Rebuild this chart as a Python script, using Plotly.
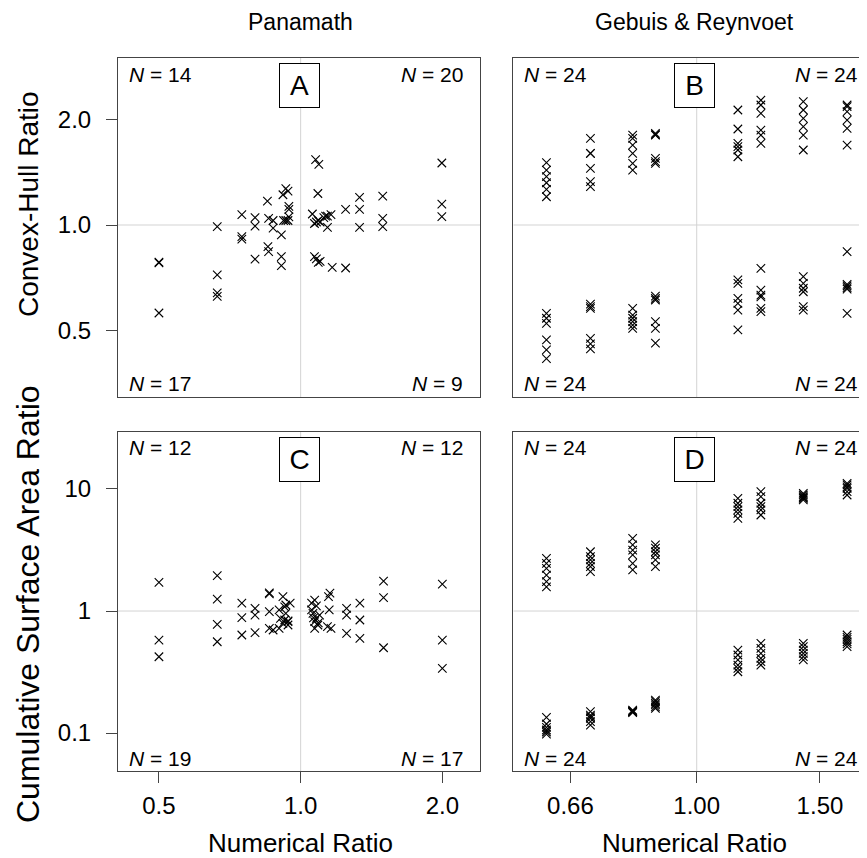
import math
import plotly.graph_objects as go

# ---------------- data ----------------
# Panel A: Panamath, convex-hull ratio vs numerical ratio
a_x = [0.75, 0.80, 0.85, 0.855, 0.874, 0.917, 0.94, 0.92, 0.93, 0.94, 0.944, 0.944, 0.944, 0.93,
       0.5, 0.5, 0.5, 0.665, 0.665, 0.665, 0.665, 0.75, 0.75, 0.80, 0.80, 0.852, 0.855, 0.874, 0.91, 0.91, 0.91,
       1.059, 1.076, 1.093, 1.088, 1.08, 1.09, 1.10, 1.12, 1.14, 1.16, 1.246, 1.334, 1.334, 1.494, 1.494,
       1.995, 1.995, 1.995, 1.13, 1.07,
       1.14, 1.07, 1.08, 1.09, 1.10, 1.167, 1.246, 1.334, 1.494]
a_y = [1.07, 1.05, 1.17, 1.045, 1.03, 1.22, 1.25, 1.03, 1.03, 1.03, 1.13, 1.108, 1.055, 1.27,
       0.784, 0.78, 0.561, 0.989, 0.721, 0.64, 0.626, 0.926, 0.911, 0.993, 0.799, 0.868, 0.84, 0.98, 0.813, 0.766, 0.937,
       1.075, 1.536, 1.49, 1.23, 1.02, 1.03, 1.02, 1.05, 1.06, 1.07, 1.108, 1.199, 1.108, 1.209, 1.045,
       1.503, 1.147, 1.056, 1.06, 1.01,
       0.985, 0.813, 0.80, 0.782, 0.787, 0.757, 0.754, 0.985, 0.989]

# Panel C: Panamath, cumulative surface area ratio vs numerical ratio
c_x = [0.5, 0.665, 0.665, 0.75, 0.80, 0.858, 0.858, 0.917, 0.925, 0.90, 0.95, 0.93,
       0.5, 0.5, 0.665, 0.665, 0.75, 0.75, 0.80, 0.80, 0.858, 0.858, 0.93, 0.906, 0.925, 0.94, 0.917, 0.90, 0.874, 0.94, 0.94,
       1.055, 1.071, 1.055, 1.154, 1.146, 1.15, 1.252, 1.336, 1.5, 1.5, 2.0, 1.08,
       1.062, 1.08, 1.071, 1.088, 1.071, 1.097, 1.16, 1.14, 1.252, 1.252, 1.336, 1.336, 1.5, 2.0, 2.0, 1.065, 1.09]
c_y = [1.72, 1.95, 1.25, 1.16, 1.05, 1.41, 1.38, 1.31, 1.08, 1.02, 1.16, 1.12,
       0.578, 0.422, 0.778, 0.56, 0.881, 0.636, 0.927, 0.664, 0.987, 0.721, 0.957, 0.871, 0.844, 0.817, 0.792, 0.721, 0.699, 0.768, 0.83,
       1.16, 1.23, 1.02, 1.40, 1.31, 1.02, 1.05, 1.16, 1.76, 1.29, 1.66, 1.10,
       0.957, 0.871, 0.817, 0.768, 0.721, 0.927, 0.721, 0.744, 0.927, 0.656, 0.844, 0.598, 0.50, 0.578, 0.339, 0.88, 0.80]

# Gebuis & Reynvoet: eight numerical ratios, six stimuli per column and half
gr_ratios = [0.61, 0.705, 0.81, 0.873, 1.145, 1.235, 1.42, 1.64]

# Panel B: convex-hull ratio (upper and lower groups per ratio)
b_upper = [
    [1.506, 1.435, 1.374, 1.32, 1.264, 1.204],
    [1.768, 1.602, 1.602, 1.451, 1.329, 1.286],
    [1.806, 1.768, 1.691, 1.602, 1.50, 1.435],
    [1.827, 1.806, 1.81, 1.55, 1.516, 1.50],
    [2.129, 1.879, 1.71, 1.673, 1.637, 1.566],
    [2.27, 2.20, 2.083, 1.866, 1.806, 1.71],
    [2.249, 2.129, 2.016, 1.908, 1.806, 1.637],
    [2.20, 2.175, 2.105, 1.993, 1.887, 1.691],
]
b_lower = [
    [0.56, 0.542, 0.524, 0.47, 0.44, 0.416],
    [0.595, 0.585, 0.578, 0.475, 0.458, 0.443],
    [0.578, 0.553, 0.542, 0.53, 0.518, 0.507],
    [0.627, 0.618, 0.611, 0.53, 0.507, 0.46],
    [0.697, 0.682, 0.618, 0.598, 0.572, 0.502],
    [0.752, 0.652, 0.631, 0.624, 0.578, 0.566],
    [0.712, 0.682, 0.66, 0.645, 0.585, 0.572],
    [0.839, 0.677, 0.67, 0.663, 0.656, 0.56],
]

# Panel D: cumulative surface area ratio
d_upper = [
    [2.70, 2.46, 2.24, 1.97, 1.74, 1.58],
    [3.06, 2.79, 2.62, 2.46, 2.31, 2.10],
    [3.94, 3.48, 3.16, 2.88, 2.46, 2.17],
    [3.48, 3.27, 3.06, 2.88, 2.62, 2.31],
    [8.39, 7.64, 7.16, 6.73, 6.31, 5.75],
    [9.50, 8.65, 7.64, 7.16, 6.73, 6.12],
    [9.22, 8.93, 8.65, 8.50, 8.39, 8.13],
    [11.1, 10.8, 10.4, 10.1, 9.50, 8.93],
]
d_lower = [
    [0.1345, 0.1186, 0.1114, 0.1059, 0.102, 0.098],
    [0.1496, 0.1405, 0.136, 0.132, 0.124, 0.116],
    [0.147, 0.149, 0.150, 0.150, 0.152, 0.154],
    [0.186, 0.181, 0.175, 0.170, 0.164, 0.159],
    [0.479, 0.436, 0.397, 0.361, 0.339, 0.318],
    [0.544, 0.495, 0.45, 0.41, 0.385, 0.361],
    [0.544, 0.51, 0.479, 0.45, 0.423, 0.397],
    [0.636, 0.608, 0.586, 0.56, 0.537, 0.51],
]

# quadrant counts (TL, TR, BL, BR)
n_a = [14, 20, 17, 9]
n_b = [24, 24, 24, 24]
n_c = [12, 12, 19, 17]
n_d = [24, 24, 24, 24]

col_titles = ["Panamath", "Gebuis & Reynvoet"]
row_titles = ["Convex-Hull Ratio", "Cumulative Surface Area Ratio"]
x_title = "Numerical Ratio"
letters = ["A", "B", "C", "D"]

left_xticks = [0.5, 1.0, 2.0]
left_xtext = ["0.5", "1.0", "2.0"]
right_xticks = [0.66, 1.0, 1.5]
right_xtext = ["0.66", "1.00", "1.50"]
top_yticks = [0.5, 1.0, 2.0]
top_ytext = ["0.5", "1.0", "2.0"]
bot_yticks = [0.1, 1, 10]
bot_ytext = ["0.1", "1", "10"]

# ---------------- layout geometry ----------------
W, H = 867, 858
ML, MT, MB = 110, 50, 95
PW = W - ML
PH = H - MT - MB
x_left_dom = [0, 362 / PW]
x_right_dom = [(505.3 - ML) / PW, 1]
y_top_dom = [(763 - 389) / PH, 1]
y_bot_dom = [0, 339 / PH]

x_left_rng = [-0.388, 0.381]
x_right_rng = [math.log10(0.547), 0.2547]
y_top_rng = [-0.4907, 0.4765]
y_bot_rng = [-1.311, 1.467]

FONT = "Liberation Sans, Arial, Helvetica, sans-serif"
AX = "#444444"
GRID = "#d3d3d3"


def expand(cols, ratios):
    xs, ys = [], []
    for r, vals in zip(ratios, cols):
        xs += [r] * len(vals)
        ys += vals
    return xs, ys


bx_u, by_u = expand(b_upper, gr_ratios)
bx_l, by_l = expand(b_lower, gr_ratios)
dx_u, dy_u = expand(d_upper, gr_ratios)
dx_l, dy_l = expand(d_lower, gr_ratios)

panels = [
    ("x", "y", a_x, a_y, x_left_rng, y_top_rng),
    ("x2", "y2", bx_u + bx_l, by_u + by_l, x_right_rng, y_top_rng),
    ("x3", "y3", c_x, c_y, x_left_rng, y_bot_rng),
    ("x4", "y4", dx_u + dx_l, dy_u + dy_l, x_right_rng, y_bot_rng),
]

fig = go.Figure()
for xa, ya, xs, ys, xr, yr in panels:
    # reference lines at ratio 1
    fig.add_trace(go.Scatter(x=[1, 1], y=[10 ** yr[0], 10 ** yr[1]], xaxis=xa, yaxis=ya,
                             mode="lines", line=dict(color=GRID, width=1),
                             hoverinfo="skip", showlegend=False))
    fig.add_trace(go.Scatter(x=[10 ** xr[0], 10 ** xr[1]], y=[1, 1], xaxis=xa, yaxis=ya,
                             mode="lines", line=dict(color=GRID, width=1),
                             hoverinfo="skip", showlegend=False))
    fig.add_trace(go.Scatter(x=xs, y=ys, xaxis=xa, yaxis=ya, mode="markers",
                             marker=dict(symbol="x-thin-open", size=8.5, color="black",
                                         line=dict(color="black", width=1.1)),
                             showlegend=False))

tickfont = dict(family=FONT, size=24, color="black")


def axis(dom, rng, anchor, tv=None, tt=None, standoff=2):
    d = dict(domain=dom, range=rng, type="log", anchor=anchor, showgrid=False, zeroline=False,
             showline=True, linecolor=AX, linewidth=1, mirror=True, tickfont=tickfont)
    if tv is None:
        d.update(ticks="", showticklabels=False)
    else:
        d.update(tickmode="array", tickvals=tv, ticktext=tt, ticks="outside", ticklen=11,
                 tickcolor=AX, tickwidth=1, ticklabelstandoff=standoff)
    return d


fig.update_layout(
    width=W, height=H,
    margin=dict(l=ML, r=0, t=MT, b=MB),
    paper_bgcolor="white", plot_bgcolor="white",
    font=dict(family=FONT, color="black"),
    xaxis=axis(x_left_dom, x_left_rng, "y"),
    yaxis=axis(y_top_dom, y_top_rng, "x", top_yticks, top_ytext, standoff=10),
    xaxis2=axis(x_right_dom, x_right_rng, "y2"),
    yaxis2=axis(y_top_dom, y_top_rng, "x2"),
    xaxis3=axis(x_left_dom, x_left_rng, "y3", left_xticks, left_xtext),
    yaxis3=axis(y_bot_dom, y_bot_rng, "x3", bot_yticks, bot_ytext, standoff=10),
    xaxis4=axis(x_right_dom, x_right_rng, "y4", right_xticks, right_xtext),
    yaxis4=axis(y_bot_dom, y_bot_rng, "x4"),
)

ann = []
nfont = dict(family=FONT, size=21, color="black")
for xa, ya, nn, letter in [("x", "y", n_a, "A"), ("x2", "y2", n_b, "B"),
                           ("x3", "y3", n_c, "C"), ("x4", "y4", n_d, "D")]:
    xref = xa + " domain"
    yref = ya + " domain"
    for val, xx, yy, xanc in [(nn[0], 0.025, 1 - 16 / 339, "left"), (nn[1], 0.9586, 1 - 16 / 339, "right"),
                              (nn[2], 0.025, 13 / 339, "left"), (nn[3], 0.9586, 13 / 339, "right")]:
        ann.append(dict(text=f"<i>N</i> = {val}", x=xx, y=yy, xref=xref, yref=yref,
                        xanchor=xanc, yanchor="middle", showarrow=False, font=nfont))
    ann.append(dict(text=letter, x=0.5, y=1 - 27.5 / 339, xref=xref, yref=yref,
                    xanchor="center", yanchor="middle", showarrow=False,
                    font=dict(family=FONT, size=28, color="black"),
                    bordercolor="black", borderwidth=1, width=37, height=41,
                    bgcolor="white"))

# column titles and x-axis titles
for t, xc in zip(col_titles, [(292 - ML) / PW, (686 - ML) / PW]):
    ann.append(dict(text=t, x=xc, y=(763 - 14) / PH, xref="paper", yref="paper",
                    xanchor="center", yanchor="middle", showarrow=False,
                    font=dict(family=FONT, size=23, color="black")))
    ann.append(dict(text=x_title, x=xc, y=(763 - 835) / PH, xref="paper", yref="paper",
                    xanchor="center", yanchor="middle", showarrow=False,
                    font=dict(family=FONT, size=26, color="black")))
# row titles
for t, yc, fs in zip(row_titles, [(763 - 196) / PH, (763 - 596) / PH], [28, 32]):
    ann.append(dict(text=t, x=(20 - ML) / PW, y=yc, xref="paper", yref="paper",
                    xanchor="center", yanchor="middle", textangle=-90, showarrow=False,
                    font=dict(family=FONT, size=fs, color="black")))

fig.update_layout(annotations=ann)
fig.write_html("out.html")
